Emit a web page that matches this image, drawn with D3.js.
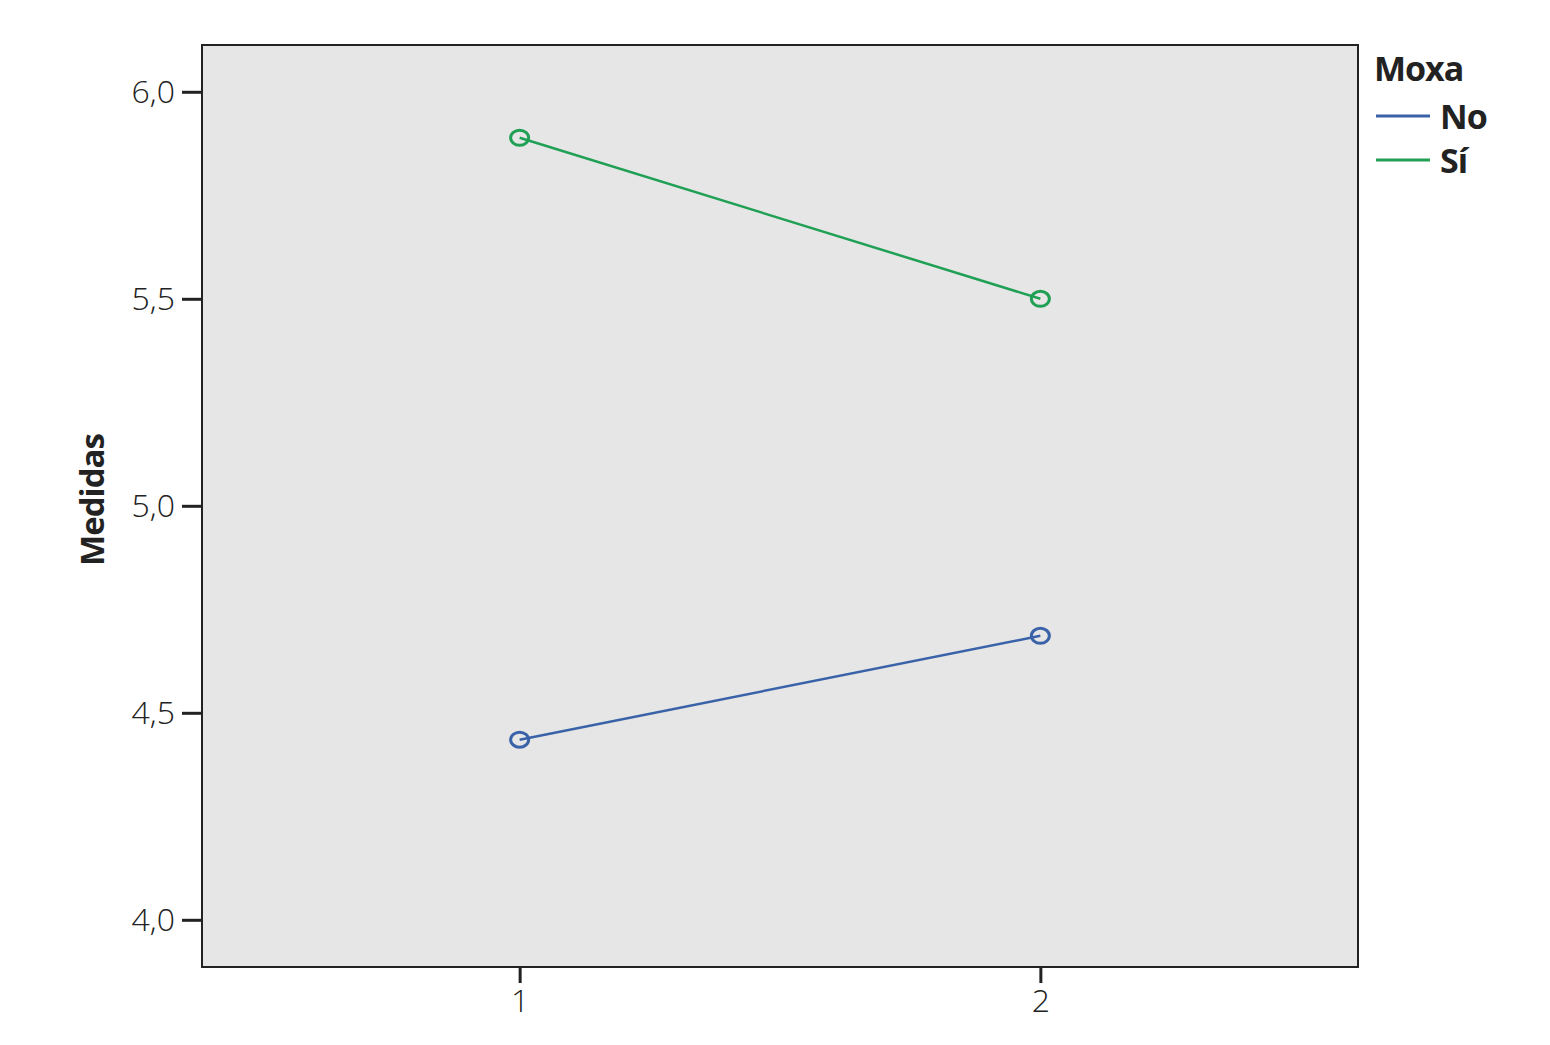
<!DOCTYPE html>
<html>
<head>
<meta charset="utf-8">
<script src="https://cdn.jsdelivr.net/npm/d3@7"></script>
<style>
  body { margin: 0; background: #fff; }
  .tick text { font-family: "Open Sans", sans-serif; font-size: 32px; font-weight: 300; fill: #222; }
</style>
</head>
<body>
<div id="chart"></div>
<script>
let width = 1550;
let height = 1045;
let padding = { left: 202, right: 192, top: 45, bottom: 78 };

// data
let categories = [1, 2];
let seriesNames = ['No', 'Sí'];
let noValues = [4.435, 4.686];
let siValues = [5.889, 5.5];
let yTicks = [4.0, 4.5, 5.0, 5.5, 6.0];
let colors = ['#3a62a8', '#1fa055'];

let svg = d3.select('#chart').append('svg')
    .attr('width', width).attr('height', height);

let plotW = width - padding.left - padding.right;
let plotH = height - padding.top - padding.bottom;

let xScale = d3.scaleLinear()
    .domain([0.39, 2.61])
    .range([0, plotW]);
let yScale = d3.scaleLinear()
    .domain([3.886, 6.113])
    .range([plotH, 0]);

let g = svg.append('g')
    .attr('transform', 'translate(' + padding.left + ',' + padding.top + ')');

g.append('rect')
    .attr('width', plotW).attr('height', plotH)
    .attr('fill', '#e6e6e6')
    .attr('stroke', '#222').attr('stroke-width', 2);

let fmt = d => d3.format('.1f')(d).replace('.', ',');

let yAxis = d3.axisLeft(yScale).tickValues(yTicks).tickFormat(fmt).tickSize(20).tickPadding(7);
let yg = g.append('g').call(yAxis);
yg.select('.domain').remove();
yg.selectAll('.tick line').attr('stroke', '#222').attr('stroke-width', 3);

let xAxis = d3.axisBottom(xScale).tickValues(categories).tickFormat(d3.format('d')).tickSize(16).tickPadding(6);
let xg = g.append('g').attr('transform', 'translate(0,' + plotH + ')').call(xAxis);
xg.select('.domain').remove();
xg.selectAll('.tick line').attr('stroke', '#222').attr('stroke-width', 3);

// y axis title
svg.append('text')
    .attr('transform', 'translate(104,500) rotate(-90)')
    .attr('text-anchor', 'middle')
    .style('font-family', '"Open Sans", sans-serif')
    .style('font-weight', 'bold')
    .style('font-size', '33px')
    .style('letter-spacing', '-1px')
    .attr('fill', '#222')
    .text('Medidas');

let series = [noValues, siValues];
let line = d3.line()
    .x((d, i) => xScale(categories[i]))
    .y(d => yScale(d));

series.forEach((vals, k) => {
    g.append('path')
        .datum(vals)
        .attr('d', line)
        .attr('fill', 'none')
        .attr('stroke', colors[k])
        .attr('stroke-width', 2.5);
    g.selectAll('.pt' + k)
        .data(vals)
        .enter()
        .append('ellipse')
        .attr('cx', (d, i) => xScale(categories[i]))
        .attr('cy', d => yScale(d))
        .attr('rx', 9).attr('ry', 7.5)
        .attr('fill', 'none')
        .attr('stroke', colors[k])
        .attr('stroke-width', 3);
});

// legend
let legend = svg.append('g').attr('transform', 'translate(1374,0)');
legend.append('text')
    .attr('x', 0).attr('y', 81)
    .style('font-family', '"Open Sans", sans-serif')
    .style('font-weight', 'bold')
    .style('font-size', '34px')
    .style('letter-spacing', '-1px')
    .attr('fill', '#222')
    .text('Moxa');
seriesNames.forEach((name, k) => {
    let y = 116 + k * 44;
    legend.append('line')
        .attr('x1', 2).attr('x2', 56)
        .attr('y1', y).attr('y2', y)
        .attr('stroke', colors[k]).attr('stroke-width', 3);
    legend.append('text')
        .attr('x', 66).attr('y', y + 13)
        .style('font-family', '"Open Sans", sans-serif')
        .style('font-weight', 'bold')
        .style('font-size', '34px')
        .style('letter-spacing', '-1px')
        .attr('fill', '#222')
        .text(name);
});
</script>
</body>
</html>
